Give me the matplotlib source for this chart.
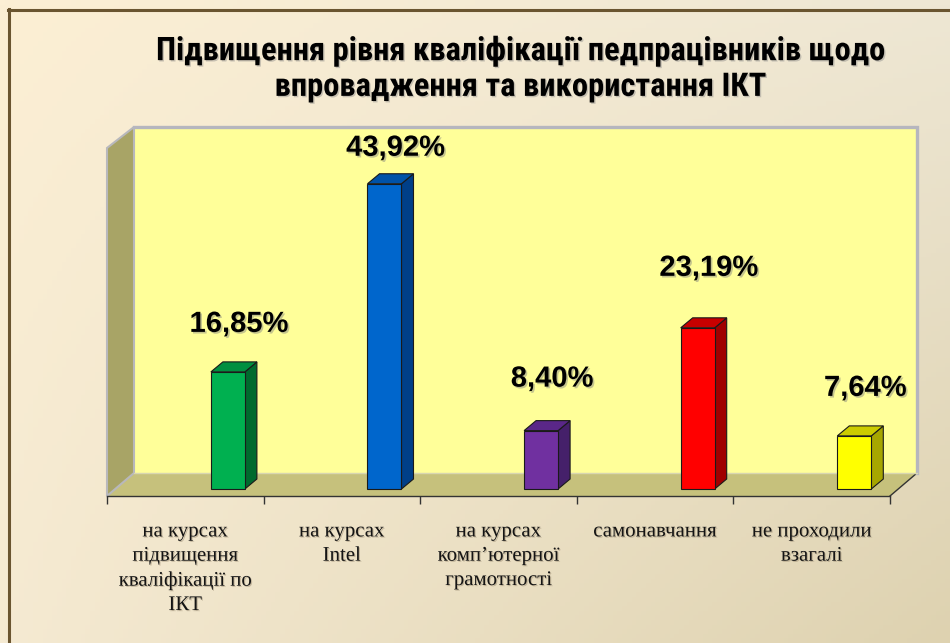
import numpy as np
import matplotlib
matplotlib.use('Agg')
import matplotlib.pyplot as plt
from matplotlib.patches import Polygon
from matplotlib.lines import Line2D
import matplotlib.patheffects as pe
from matplotlib import font_manager as fm

# ---------------- data ----------------
categories = ["на курсах\nпідвищення\nкваліфікації по\nІКТ",
              "на курсах\nIntel",
              "на курсах\nкомп’ютерної\nграмотності",
              "самонавчання",
              "не проходили\nвзагалі"]
values = [16.85, 43.92, 8.40, 23.19, 7.64]
value_labels = ["16,85%", "43,92%", "8,40%", "23,19%", "7,64%"]
title = "Підвищення рівня кваліфікації педпрацівників щодо\nвпровадження та використання ІКТ"

# ---------------- styles ----------------
front_colors = ["#00B050", "#0066CC", "#7030A0", "#FF0000", "#FFFF00"]
side_colors = ["#006A2E", "#003F88", "#45206A", "#A00000", "#A6A600"]
top_colors = ["#008F40", "#0052A8", "#5A2788", "#C80000", "#CCCC00"]
label_offsets_px = [48, 36, 52, 60, 48]

# condensed bold font for the title, if one is installed
title_fp = None
cands = []
for f in fm.fontManager.ttflist:
    fn = f.fname.lower()
    if ('narrow' in fn or 'condensed' in fn) and ('bold' in fn) and 'oblique' not in fn \
            and 'italic' not in fn and 'semi' not in fn and 'extra' not in fn.replace('fonts-dejavu-extra', ''):
        cands.append(f.fname)
pref = ['liberationsansnarrow', 'arialn', 'roboto', 'opensans', 'noto', 'dejavu']
cands.sort(key=lambda p: next((k for k, s in enumerate(pref) if s in p.lower().replace('-', '')), 99))
if cands:
    title_fp = fm.FontProperties(fname=cands[0], size=22)
else:
    title_fp = fm.FontProperties(family='Liberation Sans', weight='bold', size=19.5)

W, H = 950, 643
fig = plt.figure(figsize=(W / 100, H / 100), dpi=100)

# background gradient
bg = fig.add_axes([0, 0, 1, 1], zorder=-10)
bg.set_axis_off()
tl = np.array([252, 239, 212]) / 255
tr = np.array([238, 231, 212]) / 255
bl = np.array([245, 234, 210]) / 255
br = np.array([222, 210, 176]) / 255
xs = np.linspace(0, 1, 200)[None, :, None]
ys = np.linspace(0, 1, 140)[:, None, None]
img = (tl * (1 - xs) * (1 - ys) + tr * xs * (1 - ys) + bl * (1 - xs) * ys + br * xs * ys)
bg.imshow(img, extent=[0, 1, 0, 1], aspect='auto', origin='upper')
bg.set_xlim(0, 1); bg.set_ylim(0, 1)

# frame lines (top & left)
fig.add_artist(Line2D([8 / W, 1], [1 - 10 / H, 1 - 10 / H], transform=fig.transFigure,
                      color='#6A5530', lw=2.2))
fig.add_artist(Line2D([9 / W, 9 / W], [0, 1 - 9 / H], transform=fig.transFigure,
                      color='#6A5530', lw=2.2))

# main axes: front plane of the chart
ax_l, ax_r, ax_b, ax_t = 107, 890, 496, 127
px_x = (ax_r - ax_l) / 5.0
px_y = 6.95
ax = fig.add_axes([ax_l / W, 1 - ax_b / H, (ax_r - ax_l) / W, (ax_b - ax_t) / H])
ax.set_facecolor('none')
y0 = -7 / px_y
ytop = y0 + (ax_b - ax_t) / px_y
ax.set_xlim(-0.5, 4.5)
ax.set_ylim(y0, ytop)
for s in ['top', 'right', 'left']:
    ax.spines[s].set_visible(False)
ax.spines['bottom'].set_color('#333333')
ax.spines['bottom'].set_linewidth(1.0)
ax.set_yticks([])

DX = 27 / px_x
DY = 23 / px_y
SDY = 21 / px_y

# floor
floor = Polygon([(-0.5, y0), (4.5, y0), (4.5 + DX, y0 + DY), (-0.5 + DX, y0 + DY)],
                closed=True, facecolor='#C6C17C', edgecolor='none', clip_on=False, zorder=1)
ax.add_patch(floor)
ax.plot([4.5, 4.5 + DX], [y0, y0 + DY], color='#333333', lw=1.0, clip_on=False, zorder=2)
# back wall
wall = Polygon([(-0.5 + DX, y0 + DY), (4.5 + DX, y0 + DY), (4.5 + DX, ytop), (-0.5 + DX, ytop)],
               closed=True, facecolor='#FFFF99', edgecolor='none', clip_on=False, zorder=1)
ax.add_patch(wall)
ax.plot([-0.5 + DX, 4.5 + DX, 4.5 + DX], [ytop, ytop, y0 + DY], color='#B6B6BE', lw=2.4,
        clip_on=False, zorder=2, solid_joinstyle='miter')
ax.plot([-0.5 + DX, 4.5 + DX], [y0 + DY, y0 + DY], color='#D8D6B0', lw=1.0,
        clip_on=False, zorder=2)
# side wall
side = Polygon([(-0.5, y0), (-0.5 + DX, y0 + DY), (-0.5 + DX, ytop), (-0.5, ytop - SDY)],
               closed=True, facecolor='#A8A466', edgecolor='#B8B8BC', lw=1.5,
               clip_on=False, zorder=1.5)
ax.add_patch(side)

# bars
bw = 34 / px_x
boff = 0.272
bdx = 12 / px_x
bdy = 10 / px_y
shadow = [pe.withSimplePatchShadow(offset=(1.2, -1.2), shadow_rgbFace='#808080', alpha=0.45)]
for i, (v, fc, sc, tc, lab, off) in enumerate(zip(values, front_colors, side_colors, top_colors,
                                                   value_labels, label_offsets_px)):
    xc = i + boff
    xl, xr = xc - bw / 2, xc + bw / 2
    ax.add_patch(Polygon([(xr, 0), (xr + bdx, bdy), (xr + bdx, v + bdy), (xr, v)], closed=True,
                         facecolor=sc, edgecolor='#1A1A1A', lw=0.8, zorder=3, clip_on=False))
    ax.add_patch(Polygon([(xl, v), (xr, v), (xr + bdx, v + bdy), (xl + bdx, v + bdy)], closed=True,
                         facecolor=tc, edgecolor='#1A1A1A', lw=0.8, zorder=3, clip_on=False))
    ax.add_patch(Polygon([(xl, 0), (xr, 0), (xr, v), (xl, v)], closed=True,
                         facecolor=fc, edgecolor='#1A1A1A', lw=0.8, zorder=4, clip_on=False))
    t = ax.text(xc + 11 / px_x, v + off / px_y, lab, ha='center', va='center',
                fontsize=21, fontweight='bold', family='Liberation Sans', color='black',
                zorder=6)
    t.set_path_effects(shadow)

# ticks and category labels
ax.set_xticks(np.arange(-0.5, 5, 1.0))
ax.set_xticklabels([])
ax.tick_params(axis='x', which='major', direction='out', length=6, width=1, color='#333333')
ax.set_xticks(np.arange(len(categories)), minor=True)
ax.set_xticklabels(categories, minor=True, family='Liberation Serif', fontsize=15,
                   color='#141414', linespacing=1.38, va='top')
ax.tick_params(axis='x', which='minor', length=0, pad=19)
for tl_ in ax.get_xticklabels(minor=True):
    tl_.set_path_effects([pe.withSimplePatchShadow(offset=(0.8, -0.8), shadow_rgbFace='#9a8a70', alpha=0.5)])

# title
tt = fig.text(520 / W, 1 - 69 / H, title, ha='center', va='center',
              fontproperties=title_fp, color='black', linespacing=1.15)
tt.set_path_effects([pe.withSimplePatchShadow(offset=(1, -1), shadow_rgbFace='#808080', alpha=0.4)])

# fit the title width to the reference (about 728 px for the first line)
fig.canvas.draw()
bb = tt.get_window_extent()
scale = 728 / bb.width
if 0.7 < scale < 1.4:
    title_fp.set_size(title_fp.get_size() * scale)
    tt.set_fontproperties(title_fp)

fig.savefig('out.png', dpi=100)
